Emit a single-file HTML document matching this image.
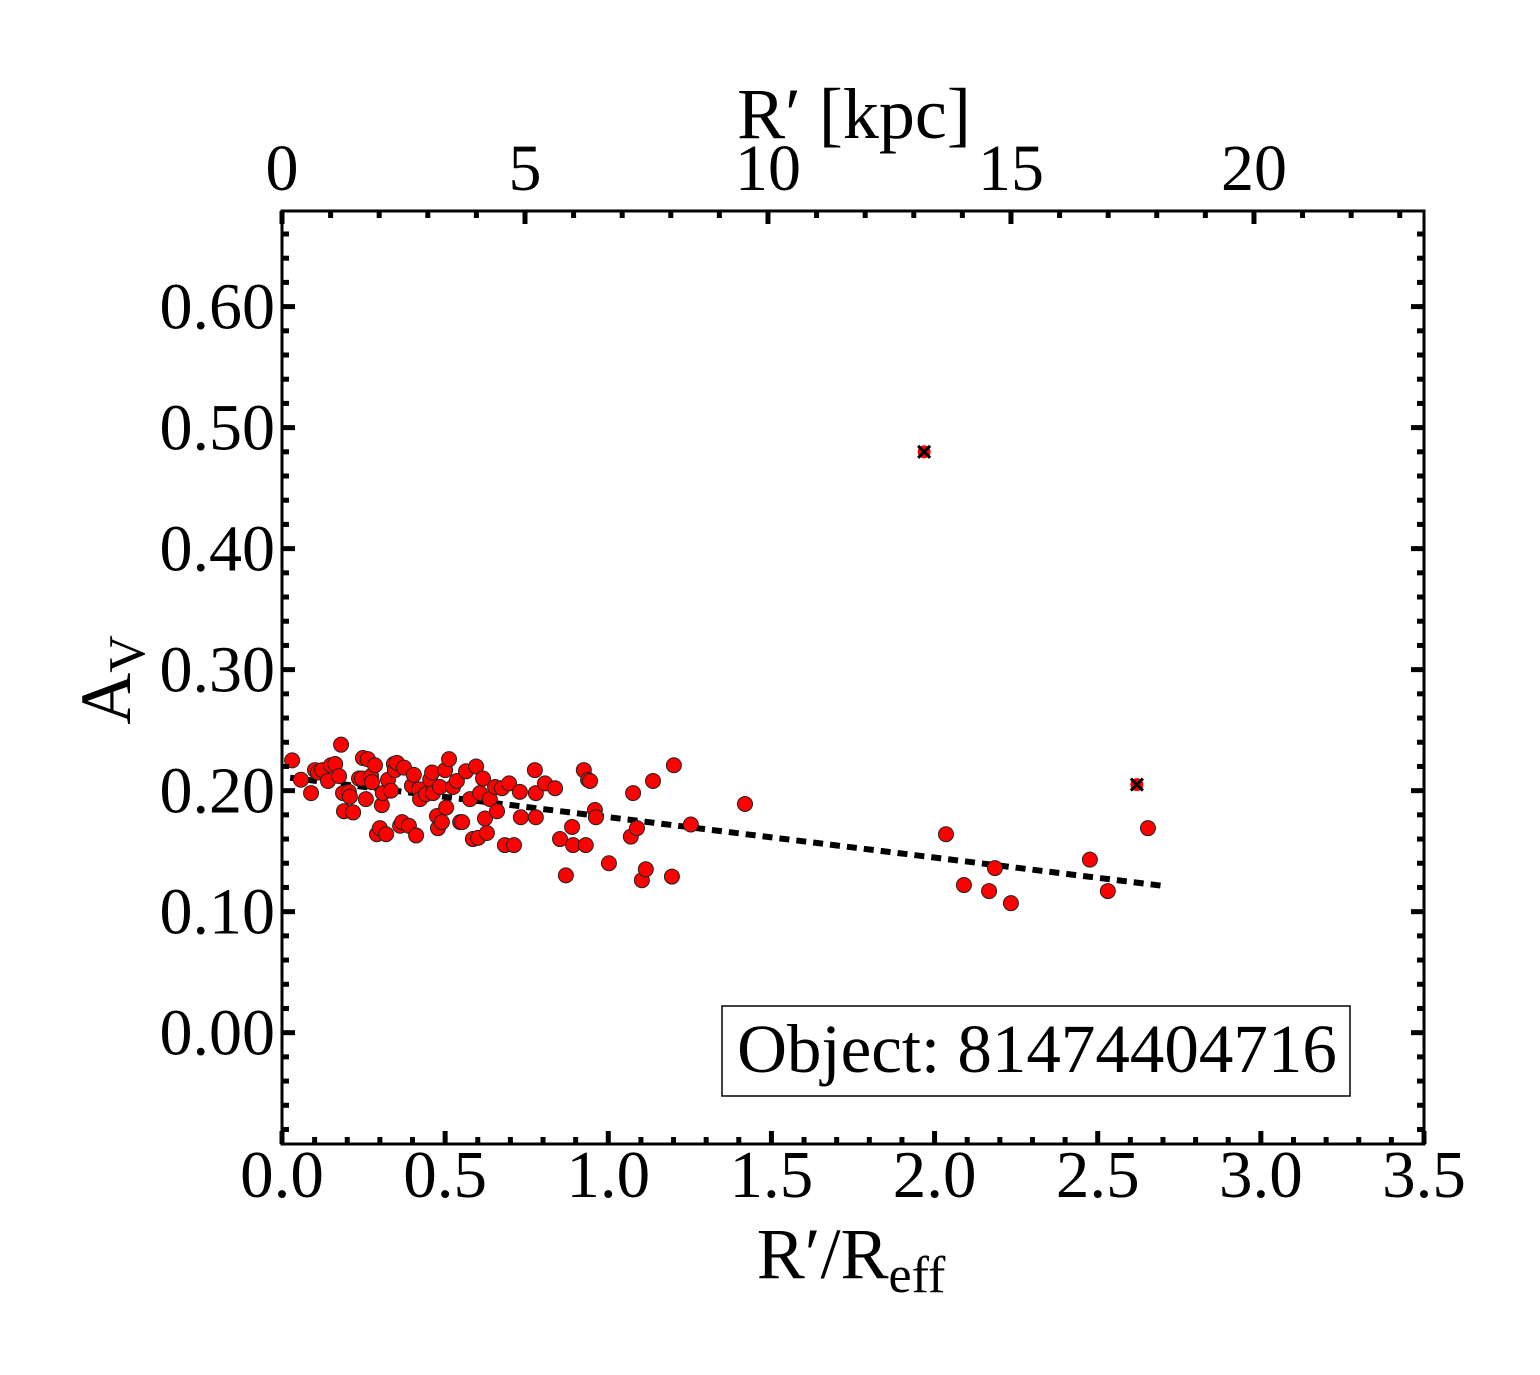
<!DOCTYPE html>
<html><head><meta charset="utf-8"><style>
html,body{margin:0;padding:0;background:#fff;}
svg{display:block;font-family:"Liberation Serif",serif;}
</style></head><body>
<svg id="chart" width="1540" height="1375" viewBox="0 0 1540 1375" xmlns="http://www.w3.org/2000/svg"></svg>
<script>
const xVals=[0.031,0.058,0.089,0.101,0.110,0.123,0.141,0.150,0.163,0.181,0.175,0.187,0.190,0.205,0.208,0.218,0.236,0.245,0.248,0.257,0.263,0.273,0.276,0.285,0.291,0.300,0.306,0.309,0.319,0.325,0.334,0.343,0.346,0.352,0.362,0.368,0.374,0.389,0.398,0.404,0.411,0.420,0.423,0.441,0.454,0.460,0.463,0.475,0.478,0.484,0.490,0.500,0.503,0.512,0.524,0.536,0.546,0.552,0.564,0.576,0.585,0.595,0.601,0.607,0.616,0.622,0.628,0.637,0.653,0.659,0.674,0.683,0.696,0.711,0.729,0.732,0.775,0.778,0.778,0.806,0.837,0.852,0.870,0.889,0.892,0.925,0.931,0.938,0.944,0.959,0.962,1.002,1.069,1.076,1.088,1.103,1.115,1.137,1.195,1.201,1.253,1.419,2.035,2.090,2.167,2.185,2.234,2.476,2.531,2.654];
const yVals=[0.225,0.209,0.198,0.217,0.215,0.217,0.208,0.221,0.222,0.238,0.212,0.198,0.183,0.199,0.195,0.182,0.210,0.210,0.227,0.193,0.226,0.212,0.207,0.221,0.164,0.169,0.188,0.198,0.164,0.209,0.200,0.222,0.217,0.223,0.171,0.174,0.219,0.171,0.204,0.213,0.163,0.201,0.193,0.197,0.209,0.215,0.198,0.179,0.169,0.203,0.174,0.217,0.186,0.226,0.203,0.208,0.174,0.174,0.216,0.193,0.160,0.220,0.161,0.198,0.210,0.177,0.165,0.193,0.203,0.183,0.202,0.155,0.206,0.155,0.199,0.178,0.217,0.198,0.178,0.206,0.202,0.160,0.130,0.170,0.155,0.217,0.155,0.209,0.208,0.184,0.178,0.140,0.162,0.198,0.169,0.126,0.135,0.208,0.129,0.221,0.172,0.189,0.164,0.122,0.117,0.136,0.107,0.143,0.117,0.169];
const outX=[1.968,2.620];
const outY=[0.480,0.205];
const fitIntercept=0.2115, fitSlope=-0.0334, fitRange=[0.025,2.70];
const xTicks=[0.0,0.5,1.0,1.5,2.0,2.5,3.0,3.5];
const xTickLabels=["0.0","0.5","1.0","1.5","2.0","2.5","3.0","3.5"];
const yTicks=[0.0,0.1,0.2,0.3,0.4,0.5,0.6];
const yTickLabels=["0.00","0.10","0.20","0.30","0.40","0.50","0.60"];
const kpcTicks=[0,5,10,15,20];
const kpcPerUnit=6.714;

const L=282,R=1424,T=211,B=1144;
const xMin=0,xMax=3.5,yMin=-0.092,yMax=0.679;
const sx=v=>L+(v-xMin)/(xMax-xMin)*(R-L);
const sy=v=>B-(v-yMin)/(yMax-yMin)*(B-T);
const skpc=k=>sx(k/kpcPerUnit);
const NS="http://www.w3.org/2000/svg";
const svg=document.getElementById('chart');
function mk(tag,attrs,parent){const e=document.createElementNS(NS,tag);for(const k in attrs)e.setAttribute(k,attrs[k]);(parent||svg).appendChild(e);return e;}

const fit=mk('line',{x1:sx(fitRange[0]),y1:sy(fitIntercept+fitSlope*fitRange[0]),x2:sx(fitRange[1]),y2:sy(fitIntercept+fitSlope*fitRange[1]),stroke:'#000','stroke-width':6,'stroke-dasharray':'10 7'});



const g=mk('g',{});


for(let i=0;i<xVals.length;i++){
  const c=mk('circle',{cx:sx(xVals[i]),cy:sy(yVals[i]),r:7.5,fill:'#ff0000',stroke:'#222','stroke-width':1},g);
  
  
}
for(let i=0;i<outX.length;i++){
  const cx=sx(outX[i]),cy=sy(outY[i]);
  const og=mk('g',{});
  
  
  mk('circle',{cx:cx,cy:cy,r:6.5,fill:'#ff0000'},og);
  mk('path',{d:`M${cx-6},${cy-6}L${cx+6},${cy+6}M${cx-6},${cy+6}L${cx+6},${cy-6}`,stroke:'#000','stroke-width':3},og);
}

const fr=mk('rect',{x:L,y:T,width:R-L,height:B-T,fill:'none',stroke:'#000','stroke-width':3});



const tk=mk('g',{stroke:'#000','stroke-width':5});


for(let v=0;v<=3.5001;v+=0.1){
  const major=Math.abs(v*2-Math.round(v*2))<1e-6, len=major?13:7, x=sx(v);
  mk('line',{x1:x,y1:B,x2:x,y2:B-len},tk);
}
for(let k=0;k<=23;k++){
  const x=skpc(k); if(x>R) break;
  const len=k%5==0?13:7;
  mk('line',{x1:x,y1:T,x2:x,y2:T+len},tk);
}
for(let i=-4;i<=33;i++){
  const v=i*0.02, y=sy(v); if(y<T||y>B) continue;
  const len=i%5==0?13:7;
  mk('line',{x1:L,y1:y,x2:L+len,y2:y},tk);
  mk('line',{x1:R,y1:y,x2:R-len,y2:y},tk);
}

xTicks.forEach((v,i)=>{const t=mk('text',{x:sx(v),y:1197,'font-size':67,'text-anchor':'middle'});t.textContent=xTickLabels[i];
  });
yTicks.forEach((v,i)=>{const t=mk('text',{x:275,y:sy(v)+22,'font-size':66,'text-anchor':'end'});t.textContent=yTickLabels[i];
  });
kpcTicks.forEach(k=>{const t=mk('text',{x:skpc(k),y:190,'font-size':66,'text-anchor':'middle'});t.textContent=String(k);
  });
</script>
<svg style="position:absolute;left:0;top:0" width="1540" height="1375">
<text x="854" y="138" font-size="72" text-anchor="middle" font-family="Liberation Serif, serif">R′ [kpc]</text>
<text x="851" y="1278" font-size="72" text-anchor="middle" font-family="Liberation Serif, serif">R′/R<tspan font-size="52" dy="14">eff</tspan></text>
<text transform="translate(130,680) rotate(-90)" font-size="72" text-anchor="middle" font-family="Liberation Serif, serif">A<tspan font-size="52" dy="14">V</tspan></text>
<rect x="722" y="1006" width="628" height="90" fill="#fff" stroke="#000" stroke-width="1.5"/>
<text x="1037" y="1072" font-size="69" text-anchor="middle" font-family="Liberation Serif, serif">Object: 81474404716</text>
</svg>
</body></html>
